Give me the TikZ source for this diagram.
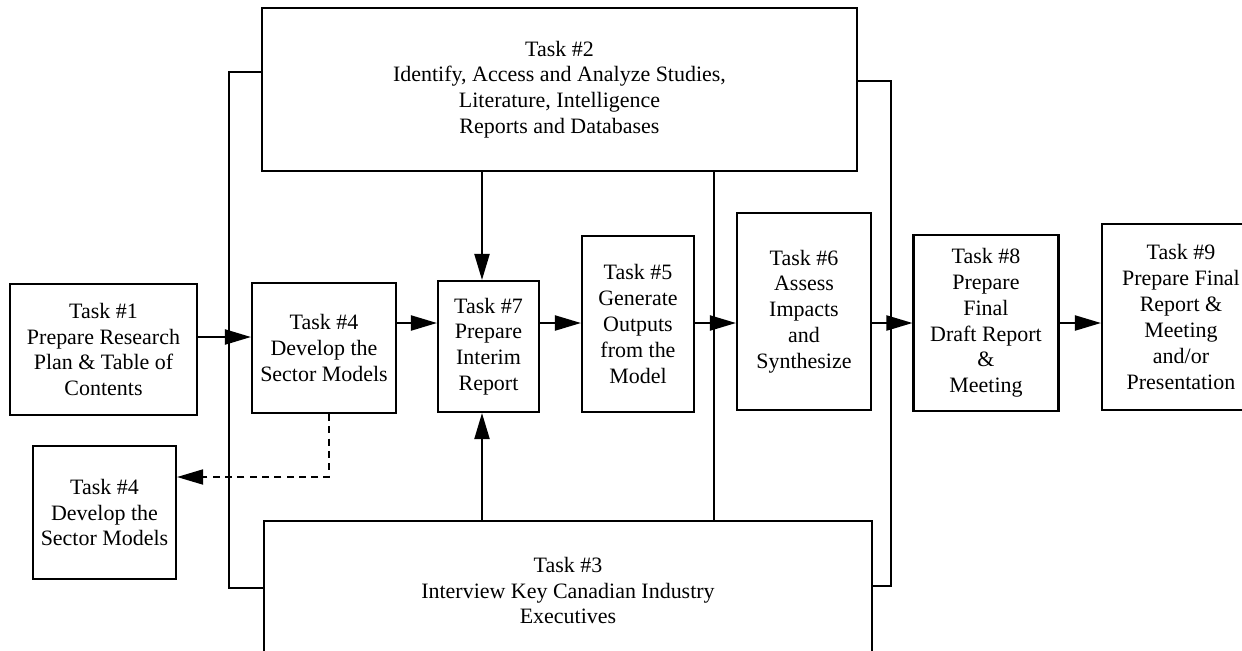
\documentclass[tikz,border=0pt]{standalone}
\usepackage{fontspec}
\setmainfont{Liberation Serif}
\usetikzlibrary{arrows.meta}

\tikzset{
  task/.style={draw, line width=1.2pt, align=center, inner sep=2pt,
    font=\fontsize{12.5}{14.7}\selectfont},
  link/.style={line width=1.2pt},
  flow/.style={line width=1.2pt, -{Triangle[length=0.52cm,width=0.3cm]}},
  dashlink/.style={line width=1pt, dash pattern=on 4pt off 3pt,
    -{Triangle[length=0.52cm,width=0.3cm]}}
}

\begin{document}
\begin{tikzpicture}[x=0.02cm,y=-0.02cm]
    \useasboundingbox (0,0) rectangle (1242,650);
    \clip (0,0) rectangle (1242,650);

    % Tasks
    \node[task, minimum width=3.74cm, minimum height=2.62cm] (t1) at (103.5,349.5)
        {Task \#1\\Prepare Research\\Plan \& Table of\\Contents};
    \node[task, minimum width=11.9cm, minimum height=3.26cm] (t2) at (559.5,89.5)
        {Task \#2\\Identify, Access and Analyze Studies,\\Literature, Intelligence\\Reports and Databases};
    \node[task, minimum width=12.16cm, minimum height=2.78cm] (t3) at (568,590.5)
        {Task \#3\\Interview Key Canadian Industry\\Executives};
    \node[task, minimum width=2.88cm, minimum height=2.6cm] (t4) at (324,348)
        {Task \#4\\Develop the\\Sector Models};
    \node[task, minimum width=2.86cm, minimum height=2.66cm] (t4b) at (104.5,512.5)
        {Task \#4\\Develop the\\Sector Models};
    \node[task, minimum width=2.02cm, minimum height=2.62cm] (t7) at (488.5,346.5)
        {Task \#7\\Prepare\\Interim\\Report};
    \node[task, minimum width=2.24cm, minimum height=3.52cm] (t5) at (638,324)
        {Task \#5\\Generate\\Outputs\\from the\\Model};
    \node[task, minimum width=2.68cm, minimum height=3.94cm] (t6) at (804,311.5)
        {Task \#6\\Assess\\Impacts\\and\\Synthesize};
    \node[task, minimum width=2.9cm, minimum height=3.52cm] (t8) at (986,323)
        {Task \#8\\Prepare\\Final\\Draft Report\\\&\\Meeting};
    \node[task, minimum width=3.16cm, minimum height=3.72cm] (t9) at (1181,317)
        {Task \#9\\Prepare Final\\Report \&\\Meeting\\and/or\\Presentation};

    % Helper points
    \coordinate (in) at (0,337);
    \coordinate (main) at (0,323);
    \coordinate (feed) at (482,0);
    \coordinate (mid) at (714,0);
    \coordinate (fork) at (329,477);
    \coordinate (lbus top) at (229,72);
    \coordinate (lbus bot) at (229,588);
    \coordinate (rbus top) at (891,81);
    \coordinate (rbus bot) at (891,586);

    % Buses between Task 2 and Task 3
    \draw[link] (t2.west |- lbus top) -- (lbus top) -- (lbus bot) -- (t3.west |- lbus bot);
    \draw[link] (t2.east |- rbus top) -- (rbus top) -- (rbus bot) -- (t3.east |- rbus bot);
    \draw[link] (t2.south -| mid) -- (t3.north -| mid);

    % Main flow
    \draw[flow] (t1.east |- in) -- (t4.west |- in);
    \draw[flow] (t4.east |- main) -- (t7.west |- main);
    \draw[flow] (t7.east |- main) -- (t5.west |- main);
    \draw[flow] (t5.east |- main) -- (t6.west |- main);
    \draw[flow] (t6.east |- main) -- (t8.west |- main);
    \draw[flow] (t8.east |- main) -- (t9.west |- main);
    \draw[flow] (t2.south -| feed) -- (t7.north -| feed);
    \draw[flow] (t3.north -| feed) -- (t7.south -| feed);

    % Dashed link
    \draw[dashlink] (t4.south -| fork) |- (t4b.east |- fork);
\end{tikzpicture}
\end{document}
